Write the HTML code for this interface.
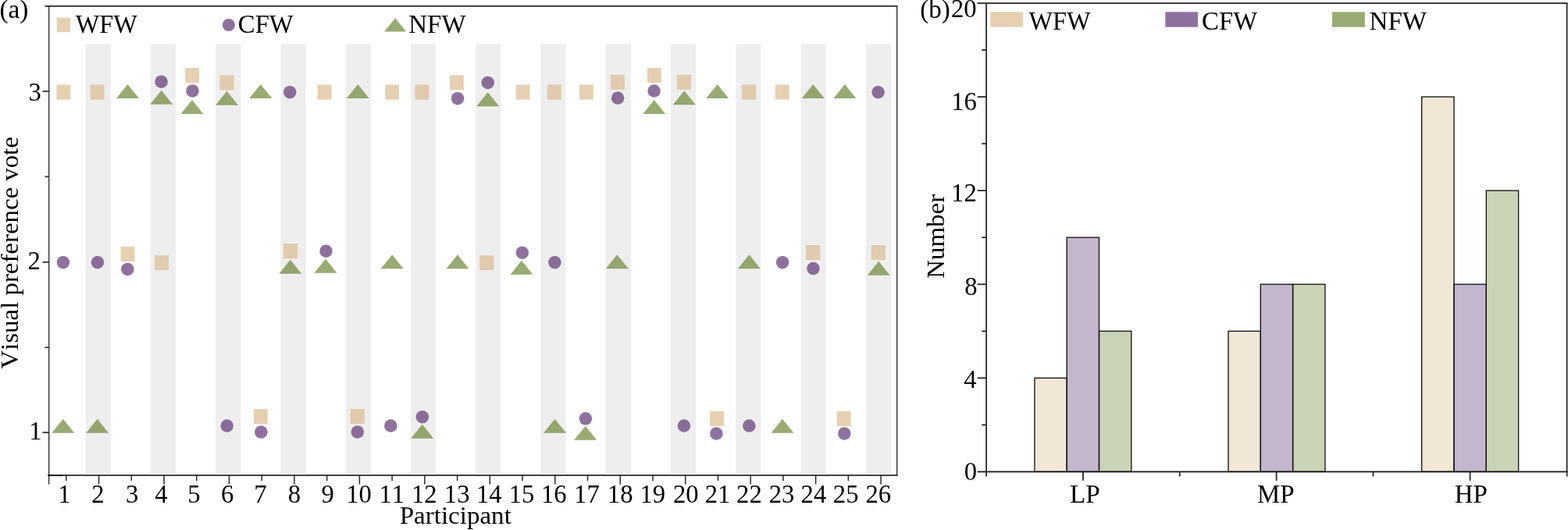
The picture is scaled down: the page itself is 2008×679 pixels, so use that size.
<!DOCTYPE html>
<html lang="en">
<head>
<meta charset="utf-8">
<title>Visual preference vote</title>
<style>
html,body{margin:0;padding:0;background:#fff;}
body{width:2008px;height:679px;overflow:hidden;}
svg{display:block;}
text{font-kerning:none;}
</style>
</head>
<body>
<svg width="2008" height="679" viewBox="0 0 2008 679">
<rect width="2008" height="679" fill="#fff"/>
<rect x="109.60" y="56.5" width="32.1" height="550.3" fill="#eeeeee"/>
<rect x="192.87" y="56.5" width="32.1" height="550.3" fill="#eeeeee"/>
<rect x="276.14" y="56.5" width="32.1" height="550.3" fill="#eeeeee"/>
<rect x="359.41" y="56.5" width="32.1" height="550.3" fill="#eeeeee"/>
<rect x="442.68" y="56.5" width="32.1" height="550.3" fill="#eeeeee"/>
<rect x="525.95" y="56.5" width="32.1" height="550.3" fill="#eeeeee"/>
<rect x="609.22" y="56.5" width="32.1" height="550.3" fill="#eeeeee"/>
<rect x="692.49" y="56.5" width="32.1" height="550.3" fill="#eeeeee"/>
<rect x="775.76" y="56.5" width="32.1" height="550.3" fill="#eeeeee"/>
<rect x="859.03" y="56.5" width="32.1" height="550.3" fill="#eeeeee"/>
<rect x="942.30" y="56.5" width="32.1" height="550.3" fill="#eeeeee"/>
<rect x="1025.57" y="56.5" width="32.1" height="550.3" fill="#eeeeee"/>
<rect x="1108.84" y="56.5" width="32.1" height="550.3" fill="#eeeeee"/>
<g class="mk">
<rect x="72.45" y="108.50" width="17.9" height="19.1" fill="#dbbc91" fill-opacity="0.7"/>
<rect x="115.50" y="108.50" width="18.1" height="19.1" fill="#dbbc91" fill-opacity="0.7"/>
<rect x="237.05" y="87.05" width="17.9" height="19.1" fill="#dbbc91" fill-opacity="0.7"/>
<rect x="281.50" y="96.35" width="18.1" height="19.1" fill="#dbbc91" fill-opacity="0.7"/>
<rect x="406.65" y="108.50" width="17.9" height="19.1" fill="#dbbc91" fill-opacity="0.7"/>
<rect x="493.20" y="108.50" width="17.9" height="19.1" fill="#dbbc91" fill-opacity="0.7"/>
<rect x="531.35" y="108.50" width="18.1" height="19.1" fill="#dbbc91" fill-opacity="0.7"/>
<rect x="576.05" y="96.25" width="17.9" height="19.1" fill="#dbbc91" fill-opacity="0.7"/>
<rect x="660.60" y="108.50" width="17.9" height="19.1" fill="#dbbc91" fill-opacity="0.7"/>
<rect x="700.80" y="108.50" width="18.1" height="19.1" fill="#dbbc91" fill-opacity="0.7"/>
<rect x="741.85" y="108.50" width="17.9" height="19.1" fill="#dbbc91" fill-opacity="0.7"/>
<rect x="781.75" y="95.75" width="18.1" height="19.1" fill="#dbbc91" fill-opacity="0.7"/>
<rect x="828.95" y="87.05" width="17.9" height="19.1" fill="#dbbc91" fill-opacity="0.7"/>
<rect x="866.85" y="95.75" width="18.1" height="19.1" fill="#dbbc91" fill-opacity="0.7"/>
<rect x="949.95" y="108.50" width="18.1" height="19.1" fill="#dbbc91" fill-opacity="0.7"/>
<rect x="992.75" y="108.50" width="17.9" height="19.1" fill="#dbbc91" fill-opacity="0.7"/>
<rect x="154.60" y="315.95" width="17.9" height="19.1" fill="#dbbc91" fill-opacity="0.7"/>
<rect x="198.00" y="327.10" width="18.1" height="19.1" fill="#dbbc91" fill-opacity="0.7"/>
<rect x="363.05" y="312.05" width="18.1" height="19.1" fill="#dbbc91" fill-opacity="0.7"/>
<rect x="614.25" y="327.10" width="18.1" height="19.1" fill="#dbbc91" fill-opacity="0.7"/>
<rect x="1032.15" y="314.05" width="18.1" height="19.1" fill="#dbbc91" fill-opacity="0.7"/>
<rect x="1115.75" y="314.05" width="18.1" height="19.1" fill="#dbbc91" fill-opacity="0.7"/>
<rect x="324.85" y="524.05" width="17.9" height="19.1" fill="#dbbc91" fill-opacity="0.7"/>
<rect x="448.65" y="524.05" width="18.1" height="19.1" fill="#dbbc91" fill-opacity="0.7"/>
<rect x="909.05" y="526.75" width="17.9" height="19.1" fill="#dbbc91" fill-opacity="0.7"/>
<rect x="1071.75" y="526.75" width="17.9" height="19.1" fill="#dbbc91" fill-opacity="0.7"/>
<circle cx="206.60" cy="104.70" r="8.25" fill="#5e3673" fill-opacity="0.7"/>
<circle cx="246.50" cy="116.40" r="8.25" fill="#5e3673" fill-opacity="0.7"/>
<circle cx="371.20" cy="118.20" r="8.25" fill="#5e3673" fill-opacity="0.7"/>
<circle cx="586.05" cy="126.20" r="8.25" fill="#5e3673" fill-opacity="0.7"/>
<circle cx="624.70" cy="105.90" r="8.25" fill="#5e3673" fill-opacity="0.7"/>
<circle cx="791.10" cy="125.55" r="8.25" fill="#5e3673" fill-opacity="0.7"/>
<circle cx="837.60" cy="116.50" r="8.25" fill="#5e3673" fill-opacity="0.7"/>
<circle cx="1124.60" cy="118.20" r="8.25" fill="#5e3673" fill-opacity="0.7"/>
<circle cx="80.90" cy="336.15" r="8.25" fill="#5e3673" fill-opacity="0.7"/>
<circle cx="124.90" cy="336.15" r="8.25" fill="#5e3673" fill-opacity="0.7"/>
<circle cx="163.35" cy="344.90" r="8.25" fill="#5e3673" fill-opacity="0.7"/>
<circle cx="417.50" cy="321.70" r="8.25" fill="#5e3673" fill-opacity="0.7"/>
<circle cx="668.80" cy="323.70" r="8.25" fill="#5e3673" fill-opacity="0.7"/>
<circle cx="710.45" cy="336.15" r="8.25" fill="#5e3673" fill-opacity="0.7"/>
<circle cx="1002.10" cy="336.15" r="8.25" fill="#5e3673" fill-opacity="0.7"/>
<circle cx="1041.45" cy="344.05" r="8.25" fill="#5e3673" fill-opacity="0.7"/>
<circle cx="290.70" cy="545.50" r="8.25" fill="#5e3673" fill-opacity="0.7"/>
<circle cx="334.30" cy="553.40" r="8.25" fill="#5e3673" fill-opacity="0.7"/>
<circle cx="457.80" cy="553.40" r="8.25" fill="#5e3673" fill-opacity="0.7"/>
<circle cx="500.35" cy="545.50" r="8.25" fill="#5e3673" fill-opacity="0.7"/>
<circle cx="540.90" cy="534.20" r="8.25" fill="#5e3673" fill-opacity="0.7"/>
<circle cx="749.90" cy="536.30" r="8.25" fill="#5e3673" fill-opacity="0.7"/>
<circle cx="875.95" cy="545.50" r="8.25" fill="#5e3673" fill-opacity="0.7"/>
<circle cx="917.40" cy="555.40" r="8.25" fill="#5e3673" fill-opacity="0.7"/>
<circle cx="959.40" cy="545.50" r="8.25" fill="#5e3673" fill-opacity="0.7"/>
<circle cx="1081.30" cy="555.40" r="8.25" fill="#5e3673" fill-opacity="0.7"/>
<path d="M148.95 125.90L177.95 125.90L163.45 107.90Z" fill="#6c8836" fill-opacity="0.7"/>
<path d="M192.20 133.80L221.20 133.80L206.70 115.80Z" fill="#6c8836" fill-opacity="0.7"/>
<path d="M231.50 146.00L260.50 146.00L246.00 128.00Z" fill="#6c8836" fill-opacity="0.7"/>
<path d="M276.00 134.80L305.00 134.80L290.50 116.80Z" fill="#6c8836" fill-opacity="0.7"/>
<path d="M319.30 125.90L348.30 125.90L333.80 107.90Z" fill="#6c8836" fill-opacity="0.7"/>
<path d="M443.80 125.90L472.80 125.90L458.30 107.90Z" fill="#6c8836" fill-opacity="0.7"/>
<path d="M610.20 136.30L639.20 136.30L624.70 118.30Z" fill="#6c8836" fill-opacity="0.7"/>
<path d="M823.20 145.90L852.20 145.90L837.70 127.90Z" fill="#6c8836" fill-opacity="0.7"/>
<path d="M861.80 134.30L890.80 134.30L876.30 116.30Z" fill="#6c8836" fill-opacity="0.7"/>
<path d="M904.15 125.90L933.15 125.90L918.65 107.90Z" fill="#6c8836" fill-opacity="0.7"/>
<path d="M1026.80 125.90L1055.80 125.90L1041.30 107.90Z" fill="#6c8836" fill-opacity="0.7"/>
<path d="M1067.40 125.90L1096.40 125.90L1081.90 107.90Z" fill="#6c8836" fill-opacity="0.7"/>
<path d="M357.30 350.80L386.30 350.80L371.80 332.80Z" fill="#6c8836" fill-opacity="0.7"/>
<path d="M402.45 349.80L431.45 349.80L416.95 331.80Z" fill="#6c8836" fill-opacity="0.7"/>
<path d="M487.70 344.25L516.70 344.25L502.20 326.25Z" fill="#6c8836" fill-opacity="0.7"/>
<path d="M571.50 344.25L600.50 344.25L586.00 326.25Z" fill="#6c8836" fill-opacity="0.7"/>
<path d="M653.45 351.80L682.45 351.80L667.95 333.80Z" fill="#6c8836" fill-opacity="0.7"/>
<path d="M775.80 344.25L804.80 344.25L790.30 326.25Z" fill="#6c8836" fill-opacity="0.7"/>
<path d="M944.90 344.25L973.90 344.25L959.40 326.25Z" fill="#6c8836" fill-opacity="0.7"/>
<path d="M1110.70 352.80L1139.70 352.80L1125.20 334.80Z" fill="#6c8836" fill-opacity="0.7"/>
<path d="M66.30 554.85L95.30 554.85L80.80 536.85Z" fill="#6c8836" fill-opacity="0.7"/>
<path d="M110.10 554.85L139.10 554.85L124.60 536.85Z" fill="#6c8836" fill-opacity="0.7"/>
<path d="M526.25 561.85L555.25 561.85L540.75 543.85Z" fill="#6c8836" fill-opacity="0.7"/>
<path d="M696.00 554.85L725.00 554.85L710.50 536.85Z" fill="#6c8836" fill-opacity="0.7"/>
<path d="M735.20 563.85L764.20 563.85L749.70 545.85Z" fill="#6c8836" fill-opacity="0.7"/>
<path d="M987.50 554.85L1016.50 554.85L1002.00 536.85Z" fill="#6c8836" fill-opacity="0.7"/>
</g>
<g stroke="#2a2a2a" fill="none" stroke-linecap="butt">
<path d="M62.7 7.9V620.5" stroke-width="1.35"/>
<path d="M57.5 7.9H1149.375" stroke-width="1.7"/>
<path d="M1148.7 7.9V609.75" stroke-width="1.35"/>
<path d="M62.025000000000006 608.9H1149.375" stroke-width="1.7"/>
<path d="M61.300000000000004 609.0H80" stroke="#000" stroke-width="1.9"/>
<path d="M54.5 116.95H62.7" stroke-width="1.7"/>
<path d="M54.5 335.85H62.7" stroke-width="1.7"/>
<path d="M54.5 554.05H62.7" stroke-width="1.7"/>
<path d="M57.5 226.3H62.7" stroke-width="1.7"/>
<path d="M57.5 445.15H62.7" stroke-width="1.7"/>
<path d="M84.85 608.9V615.9" stroke-width="1.5"/>
<path d="M126.58 608.9V620.5" stroke-width="1.5"/>
<path d="M168.31 608.9V615.9" stroke-width="1.5"/>
<path d="M210.04 608.9V620.5" stroke-width="1.5"/>
<path d="M251.77 608.9V615.9" stroke-width="1.5"/>
<path d="M293.50 608.9V620.5" stroke-width="1.5"/>
<path d="M335.23 608.9V615.9" stroke-width="1.5"/>
<path d="M376.96 608.9V620.5" stroke-width="1.5"/>
<path d="M418.69 608.9V615.9" stroke-width="1.5"/>
<path d="M460.42 608.9V620.5" stroke-width="1.5"/>
<path d="M502.15 608.9V615.9" stroke-width="1.5"/>
<path d="M543.88 608.9V620.5" stroke-width="1.5"/>
<path d="M585.61 608.9V615.9" stroke-width="1.5"/>
<path d="M627.34 608.9V620.5" stroke-width="1.5"/>
<path d="M669.07 608.9V615.9" stroke-width="1.5"/>
<path d="M710.80 608.9V620.5" stroke-width="1.5"/>
<path d="M752.53 608.9V615.9" stroke-width="1.5"/>
<path d="M794.26 608.9V620.5" stroke-width="1.5"/>
<path d="M835.99 608.9V615.9" stroke-width="1.5"/>
<path d="M877.72 608.9V620.5" stroke-width="1.5"/>
<path d="M919.45 608.9V615.9" stroke-width="1.5"/>
<path d="M961.18 608.9V620.5" stroke-width="1.5"/>
<path d="M1002.91 608.9V615.9" stroke-width="1.5"/>
<path d="M1044.64 608.9V620.5" stroke-width="1.5"/>
<path d="M1086.37 608.9V615.9" stroke-width="1.5"/>
<path d="M1128.10 608.9V620.5" stroke-width="1.5"/>
</g>
<g font-family='"Liberation Serif", serif' fill="#000">
<text x="-0.50" y="23.0" font-size="33.3" textLength="36.97" lengthAdjust="spacingAndGlyphs">(a)</text>
<text x="96.75" y="41.65" font-size="34.3" textLength="79.07" lengthAdjust="spacingAndGlyphs">WFW</text>
<text x="304.87" y="41.65" font-size="34.3" textLength="70.85" lengthAdjust="spacingAndGlyphs">CFW</text>
<text x="523.29" y="41.65" font-size="34.3" textLength="73.32" lengthAdjust="spacingAndGlyphs">NFW</text>
<text x="36.60" y="128.9" font-size="32.7">3</text>
<text x="35.60" y="345.3" font-size="32.7">2</text>
<text x="37.25" y="562.6" font-size="32.7">1</text>
<text x="74.30" y="644.2" font-size="32.7">1</text>
<text x="117.30" y="644.2" font-size="32.7">2</text>
<text x="160.95" y="644.2" font-size="32.7">3</text>
<text x="198.25" y="644.2" font-size="32.7">4</text>
<text x="240.30" y="644.2" font-size="32.7">5</text>
<text x="282.98" y="644.2" font-size="32.7">6</text>
<text x="325.18" y="644.2" font-size="32.7">7</text>
<text x="368.82" y="644.2" font-size="32.7">8</text>
<text x="411.40" y="644.2" font-size="32.7">9</text>
<text x="443.15" y="644.2" font-size="32.7">10</text>
<text x="485.52" y="644.2" font-size="32.7">11</text>
<text x="526.90" y="644.2" font-size="32.7">12</text>
<text x="568.85" y="644.2" font-size="32.7">13</text>
<text x="609.98" y="644.2" font-size="32.7">14</text>
<text x="651.75" y="644.2" font-size="32.7">15</text>
<text x="693.02" y="644.2" font-size="32.7">16</text>
<text x="735.12" y="644.2" font-size="32.7">17</text>
<text x="777.85" y="644.2" font-size="32.7">18</text>
<text x="819.52" y="644.2" font-size="32.7">19</text>
<text x="862.00" y="644.2" font-size="32.7">20</text>
<text x="902.73" y="644.2" font-size="32.7">21</text>
<text x="943.05" y="644.2" font-size="32.7">22</text>
<text x="984.70" y="644.2" font-size="32.7">23</text>
<text x="1025.62" y="644.2" font-size="32.7">24</text>
<text x="1066.80" y="644.2" font-size="32.7">25</text>
<text x="1108.38" y="644.2" font-size="32.7">26</text>
<text x="511.68" y="671.4" font-size="32.4" textLength="143.15" lengthAdjust="spacingAndGlyphs">Participant</text>
<text transform="translate(23.20 472.45) rotate(-90)" font-size="32.4" textLength="297.24" lengthAdjust="spacingAndGlyphs">Visual preference vote</text>
<text x="1178.21" y="23.2" font-size="33.3" textLength="38.67" lengthAdjust="spacingAndGlyphs">(b)</text>
<text x="1217.95" y="21.6" font-size="32.7">20</text>
<text x="1218.17" y="140.7" font-size="32.7">16</text>
<text x="1218.05" y="258.4" font-size="32.7">12</text>
<text x="1235.17" y="377.8" font-size="32.7">8</text>
<text x="1234.25" y="497.0" font-size="32.7">4</text>
<text x="1234.67" y="615.2" font-size="32.7">0</text>
<text x="1317.50" y="38.4" font-size="34.3" textLength="79.17" lengthAdjust="spacingAndGlyphs">WFW</text>
<text x="1539.07" y="38.4" font-size="34.3" textLength="71.01" lengthAdjust="spacingAndGlyphs">CFW</text>
<text x="1753.53" y="38.4" font-size="34.3" textLength="73.58" lengthAdjust="spacingAndGlyphs">NFW</text>
<text x="1370.08" y="644.2" font-size="34.3" textLength="38.76" lengthAdjust="spacingAndGlyphs">LP</text>
<text x="1610.04" y="644.2" font-size="34.3" textLength="47.43" lengthAdjust="spacingAndGlyphs">MP</text>
<text x="1862.64" y="644.2" font-size="34.3" textLength="42.05" lengthAdjust="spacingAndGlyphs">HP</text>
<text transform="translate(1208.60 356.82) rotate(-90)" font-size="32.4" textLength="107.96" lengthAdjust="spacingAndGlyphs">Number</text>
</g>
<rect x="72.70" y="22.90" width="17.5" height="18.2" fill="#dbbc91" fill-opacity="0.7"/>
<circle cx="292.85" cy="32.00" r="8.05" fill="#5e3673" fill-opacity="0.7"/>
<path d="M492.10 40.60L520.10 40.60L506.10 23.20Z" fill="#6c8836" fill-opacity="0.7"/>
<g stroke="#141414" stroke-width="1.35">
<rect x="1324.90" y="484.32" width="41.3" height="120.08" fill="#dbbc91" fill-opacity="0.365"/>
<rect x="1366.20" y="304.20" width="41.3" height="300.20" fill="#5e3673" fill-opacity="0.365"/>
<rect x="1407.50" y="424.28" width="41.3" height="180.12" fill="#6c8836" fill-opacity="0.365"/>
<rect x="1573.00" y="424.28" width="41.3" height="180.12" fill="#dbbc91" fill-opacity="0.365"/>
<rect x="1614.30" y="364.24" width="41.3" height="240.16" fill="#5e3673" fill-opacity="0.365"/>
<rect x="1655.60" y="364.24" width="41.3" height="240.16" fill="#6c8836" fill-opacity="0.365"/>
<rect x="1820.70" y="124.08" width="41.3" height="480.32" fill="#dbbc91" fill-opacity="0.365"/>
<rect x="1862.00" y="364.24" width="41.3" height="240.16" fill="#5e3673" fill-opacity="0.365"/>
<rect x="1903.30" y="244.16" width="41.3" height="360.24" fill="#6c8836" fill-opacity="0.365"/>
</g>
<g stroke="#222" stroke-width="1.75" fill="none">
<path d="M1263.1 4.0V610.4"/>
<path d="M1251.6999999999998 4.1H2007.4499999999998" stroke-width="1.9"/>
<path d="M2006.6 4.0V610.4"/>
<path d="M1251.6999999999998 604.4H2007.4499999999998" stroke="#161616" stroke-width="1.9"/>
<path d="M1251.6999999999998 484.32H1263.1"/>
<path d="M1251.6999999999998 364.24H1263.1"/>
<path d="M1251.6999999999998 244.16H1263.1"/>
<path d="M1251.6999999999998 124.08H1263.1"/>
<path d="M1257.3 544.36H1263.1"/>
<path d="M1257.3 424.28H1263.1"/>
<path d="M1257.3 304.20H1263.1"/>
<path d="M1257.3 184.12H1263.1"/>
<path d="M1257.3 64.04H1263.1"/>
<path d="M1387.0 604.4V615.8"/>
<path d="M1634.6 604.4V615.8"/>
<path d="M1882.6 604.4V615.8"/>
<path d="M1510.8 604.4V610.4"/>
<path d="M1758.5 604.4V610.4"/>
</g>
<rect x="1268.3" y="15.3" width="41.8" height="19.35" fill="#dbbc91" fill-opacity="0.7"/>
<rect x="1492.3" y="15.3" width="41.8" height="19.35" fill="#5e3673" fill-opacity="0.7"/>
<rect x="1705.95" y="15.3" width="41.9" height="19.35" fill="#6c8836" fill-opacity="0.7"/>
</svg>
</body>
</html>
